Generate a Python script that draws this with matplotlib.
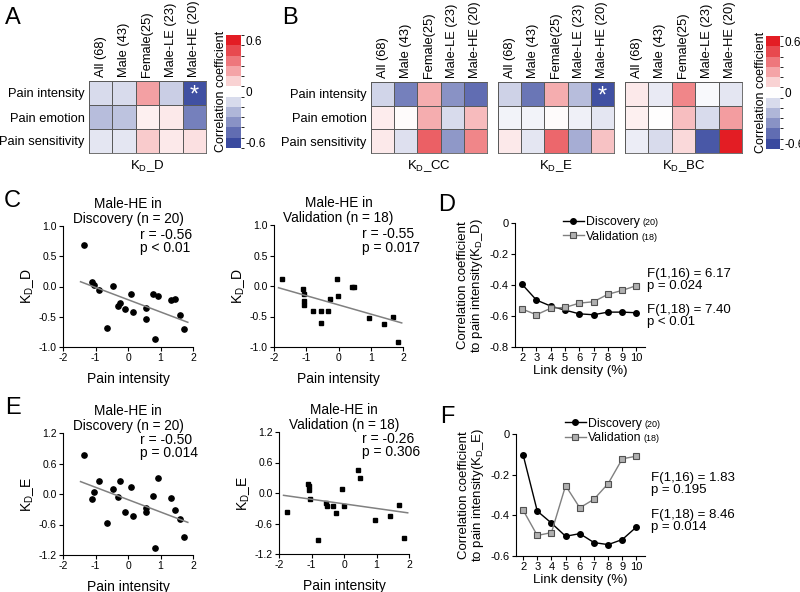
import numpy as np
import matplotlib
matplotlib.use("Agg")
import matplotlib.pyplot as plt
from matplotlib.cm import ScalarMappable
from matplotlib.colors import LinearSegmentedColormap, ListedColormap, BoundaryNorm

plt.rcParams["font.family"] = ["Liberation Sans", "DejaVu Sans"]
plt.rcParams["mathtext.default"] = "regular"
plt.rcParams["axes.unicode_minus"] = False

W, H = 800, 592

# ---- heatmap data (rows: measures, cols: groups) ----
GROUPS = ["All (68)", "Male (43)", "Female(25)", "Male-LE (23)", "Male-HE (20)"]
MEASURES = ["Pain intensity", "Pain emotion", "Pain sensitivity"]

KD_D = [[-0.12, -0.12, 0.25, -0.16, -0.58],
        [-0.22, -0.20, 0.04, 0.06, -0.42],
        [-0.08, -0.08, 0.14, 0.06, 0.08]]
KD_CC = [[-0.14, -0.42, 0.22, -0.36, -0.48],
         [0.05, 0.01, 0.22, -0.12, 0.18],
         [0.06, -0.10, 0.42, -0.34, 0.32]]
KD_E = [[-0.15, -0.45, 0.22, -0.22, -0.58],
        [-0.04, -0.04, 0.01, -0.05, -0.08],
        [0.06, -0.08, 0.40, -0.27, 0.16]]
KD_BC = [[0.06, -0.07, 0.32, -0.02, -0.08],
         [0.04, 0.00, 0.17, -0.12, 0.26],
         [-0.06, -0.12, 0.10, -0.55, 0.60]]

# ---- scatter data (Male-HE) ----
DISC_PAIN = [-1.34, -1.10, -1.05, -0.88, -0.64, -0.47, -0.31, -0.25, -0.10, 0.09,
             0.16, 0.54, 0.56, 0.76, 0.82, 0.92, 1.31, 1.44, 1.59, 1.72]
DISC_KD_D = [0.68, 0.08, 0.02, -0.05, -0.69, 0.01, -0.32, -0.28, -0.38, -0.12,
             -0.42, -0.53, -0.35, -0.13, -0.87, -0.15, -0.23, -0.21, -0.47, -0.71]
DISC_KD_E = [0.775, -0.10, 0.04, 0.26, -0.58, 0.10, -0.06, 0.26, -0.36, 0.13,
             -0.44, -0.36, -0.27, -0.04, -1.06, 0.32, -0.08, -0.32, -0.50, -0.85]

VAL_PAIN = [-1.74, -1.11, -1.08, -1.07, -1.06, -0.79, -0.55, -0.53, -0.34, -0.25,
            -0.05, -0.01, 0.43, 0.49, 0.95, 1.42, 1.68, 1.84]
VAL_KD_D = [0.11, -0.05, -0.13, -0.24, -0.31, -0.41, -0.41, -0.61, -0.41, -0.21,
            0.11, -0.16, -0.01, -0.01, -0.52, -0.62, -0.50, -0.92]
VAL_KD_E = [-0.37, 0.18, 0.13, 0.05, -0.12, -0.92, -0.20, -0.26, -0.25, -0.39,
            0.07, -0.25, 0.46, 0.30, -0.53, -0.46, -0.24, -0.88]

# ---- link density curves ----
DENSITY = [2, 3, 4, 5, 6, 7, 8, 9, 10]
D_DISC = [-0.396, -0.497, -0.536, -0.562, -0.586, -0.592, -0.575, -0.575, -0.579]
D_VAL = [-0.555, -0.592, -0.550, -0.545, -0.517, -0.508, -0.460, -0.435, -0.404]
F_DISC = [-0.102, -0.379, -0.438, -0.503, -0.490, -0.534, -0.544, -0.519, -0.457]
F_VAL = [-0.374, -0.499, -0.485, -0.254, -0.363, -0.321, -0.244, -0.122, -0.109]

CMAP = LinearSegmentedColormap.from_list("bwr_fig", ["#3a4a9f", "#ffffff", "#e31d24"])
GRID_COLOR = "#5a5a5a"


def px_rect(x0, y0, x1, y1):
    return [x0 / W, 1 - y1 / H, (x1 - x0) / W, (y1 - y0) / H]


def draw_heatmap(ax, vals, name, show_rows=False, stars=()):
    vals = np.array(vals)
    ax.pcolormesh(vals, cmap=CMAP, vmin=-0.6, vmax=0.6,
                  edgecolors=GRID_COLOR, linewidth=0.6)
    ax.set_xlim(0, vals.shape[1])
    ax.set_ylim(vals.shape[0], 0)
    ax.xaxis.tick_top()
    ax.set_xticks(np.arange(vals.shape[1]) + 0.5)
    ax.set_xticklabels(GROUPS, rotation=90, fontsize=9.3)
    if show_rows:
        ax.set_yticks(np.arange(vals.shape[0]) + 0.5)
        ax.set_yticklabels(MEASURES, fontsize=9.3)
    else:
        ax.set_yticks([])
    ax.tick_params(length=0, pad=3)
    for s in ax.spines.values():
        s.set_color(GRID_COLOR)
        s.set_linewidth(0.6)
    for r, c in stars:
        ax.text(c + 0.5, r + 0.62, "*", color="white", fontsize=17,
                ha="center", va="center")
    ax.text(0.5, -0.07, name, transform=ax.transAxes, ha="center", va="top",
            fontsize=9.5)


def draw_colorbar(fig, rect):
    cax = fig.add_axes(rect)
    bounds = np.linspace(-0.66, 0.66, 12)
    cmap = ListedColormap(CMAP(np.linspace(0, 1, 11)))
    sm = ScalarMappable(norm=BoundaryNorm(bounds, 11), cmap=cmap)
    cb = fig.colorbar(sm, cax=cax, ticks=[-0.6, 0, 0.6])
    cb.ax.set_yticklabels(["-0.6", "0", "0.6"])
    cb.ax.tick_params(length=0, labelsize=8.5, pad=3)
    cb.outline.set_visible(False)
    cb.set_label("Correlation coefficient", fontsize=9, labelpad=-1)
    cb.ax.yaxis.set_label_position("left")


def style_axes(ax, labelsize=7.5):
    for side in ["top", "right"]:
        ax.spines[side].set_visible(False)
    for side in ["left", "bottom"]:
        ax.spines[side].set_linewidth(0.8)
    ax.tick_params(direction="out", length=3, width=0.8, labelsize=labelsize, pad=1.5)


def draw_scatter(ax, x, y, marker, ms, ylim, yticks, ylabel, title, stats, stats_pos):
    x = np.array(x)
    y = np.array(y)
    ax.plot(x, y, linestyle="none", marker=marker, color="black", ms=ms)
    slope, icpt = np.polyfit(x, y, 1)
    xs = np.array([max(x.min() - 0.12, -2), min(x.max() + 0.12, 2)])
    ax.plot(xs, slope * xs + icpt, color="#808080", lw=1.1)
    ax.set_xlim(-2, 2)
    ax.set_ylim(*ylim)
    ax.set_xticks([-2, -1, 0, 1, 2])
    ax.set_yticks(yticks)
    ax.set_yticklabels([f"{v:.1f}" for v in yticks])
    style_axes(ax)
    ax.set_xlabel("Pain intensity", fontsize=10, labelpad=6)
    ax.set_ylabel(ylabel, fontsize=10, labelpad=2)
    ax.set_title(title, fontsize=9.8, pad=1.5, linespacing=1.05)
    ax.text(stats_pos[0], stats_pos[1], stats, transform=ax.transAxes,
            ha="left", va="center", fontsize=10, linespacing=0.95)


def draw_density(ax, disc, val, ylim, yticks, yticklabels, kd, stats, leg_anchor):
    ax.plot(DENSITY, disc, "o-", color="black", ms=4, lw=1, label="Discovery")
    ax.plot(DENSITY, val, "s-", color="#808080", mfc="#b0b0b0", mec="#505050",
            mew=0.8, ms=4.2, lw=1, label="Validation")
    ax.set_xlim(1.5, 10.6)
    ax.set_ylim(*ylim)
    ax.set_xticks(DENSITY)
    ax.set_yticks(yticks)
    ax.set_yticklabels(yticklabels)
    style_axes(ax, labelsize=8)
    ax.set_xlabel("Link density (%)", fontsize=9.5, labelpad=1)
    ax.set_ylabel("Correlation coefficient\nto pain intensity(K$_{D}$_" + kd + ")",
                  fontsize=9.5, labelpad=3, linespacing=1.05)
    leg = ax.legend(loc="upper left", bbox_to_anchor=leg_anchor, frameon=False,
                    fontsize=8.8, handlelength=1.7, handletextpad=0.15,
                    labelspacing=0.2, borderpad=0, borderaxespad=0)
    for txt, n in zip(leg.get_texts(), ["(20)", "(18)"]):
        # drawn after the legend so the label position is known
        ax.annotate(n, xy=(1, 0.45), xycoords=txt, xytext=(2, 0),
                    textcoords="offset points", va="center", fontsize=6.5,
                    zorder=10)
    for (xf, yf), s in stats:
        ax.text(xf, yf, s, transform=ax.transAxes, ha="left", va="center",
                fontsize=9.5, linespacing=1.0)


def main():
    fig = plt.figure(figsize=(W / 100, H / 100), dpi=100)

    # A
    ax = fig.add_axes(px_rect(89, 81, 206, 153))
    draw_heatmap(ax, KD_D, "K$_{D}$_D", show_rows=True, stars=[(0, 4)])
    draw_colorbar(fig, px_rect(226, 35, 241, 148))

    # B
    ax = fig.add_axes(px_rect(371, 82, 487, 153))
    draw_heatmap(ax, KD_CC, "K$_{D}$_CC", show_rows=True)
    ax = fig.add_axes(px_rect(498, 82, 614, 153))
    draw_heatmap(ax, KD_E, "K$_{D}$_E", stars=[(0, 4)])
    ax = fig.add_axes(px_rect(625, 82, 742, 153))
    draw_heatmap(ax, KD_BC, "K$_{D}$_BC")
    draw_colorbar(fig, px_rect(766, 36, 780, 149))

    # C
    ax = fig.add_axes(px_rect(63, 226, 193, 347))
    draw_scatter(ax, DISC_PAIN, DISC_KD_D, "o", 3.8, (-1, 1), [1.0, 0.5, 0.0, -0.5, -1.0],
                 "K$_{D}$_D", "Male-HE in\nDiscovery (n = 20)",
                 "r = -0.56\np < 0.01", (0.59, 0.87))
    ax = fig.add_axes(px_rect(274, 225, 403, 347))
    draw_scatter(ax, VAL_PAIN, VAL_KD_D, "s", 3.3, (-1, 1), [1.0, 0.5, 0.0, -0.5, -1.0],
                 "K$_{D}$_D", "Male-HE in\nValidation (n = 18)",
                 "r = -0.55\np = 0.017", (0.68, 0.87))

    # D
    ax = fig.add_axes(px_rect(515, 223, 645, 347))
    draw_density(ax, D_DISC, D_VAL, (-0.8, 0), [0, -0.2, -0.4, -0.6, -0.8],
                 ["0", "-0.2", "-0.4", "-0.6", "-0.8"], "D",
                 [((1.015, 0.54), "F(1,16) = 6.17\np = 0.024"),
                  ((1.015, 0.25), "F(1,18) = 7.40\np < 0.01")],
                 (0.37, 1.055))

    # E
    ax = fig.add_axes(px_rect(63, 433, 193, 555))
    draw_scatter(ax, DISC_PAIN, DISC_KD_E, "o", 3.8, (-1.2, 1.2), [1.2, 0.6, 0.0, -0.6, -1.2],
                 "K$_{D}$_E", "Male-HE in\nDiscovery (n = 20)",
                 "r = -0.50\np = 0.014", (0.59, 0.89))
    ax = fig.add_axes(px_rect(279, 432, 409, 554))
    draw_scatter(ax, VAL_PAIN, VAL_KD_E, "s", 3.3, (-1.2, 1.2), [1.2, 0.6, 0.0, -0.6, -1.2],
                 "K$_{D}$_E", "Male-HE in\nValidation (n = 18)",
                 "r = -0.26\np = 0.306", (0.636, 0.89))

    # F
    ax = fig.add_axes(px_rect(516, 434, 645, 556))
    draw_density(ax, F_DISC, F_VAL, (-0.6, 0), [0, -0.2, -0.4, -0.6],
                 ["0", "-0.2", "-0.4", "-0.6"], "E",
                 [((1.047, 0.594), "F(1,16) = 1.83\np = 0.195"),
                  ((1.047, 0.287), "F(1,18) = 8.46\np = 0.014")],
                 (0.38, 1.135))

    for letter, (x, y) in zip("ABCDEF", [(13, 18), (290, 18), (12, 201),
                                         (447, 205), (13, 408), (447, 417)]):
        fig.text(x / W, 1 - y / H, letter, fontsize=17, ha="center", va="center")

    fig.savefig("out.png", dpi=100)
    plt.close(fig)


if __name__ == "__main__":
    main()
